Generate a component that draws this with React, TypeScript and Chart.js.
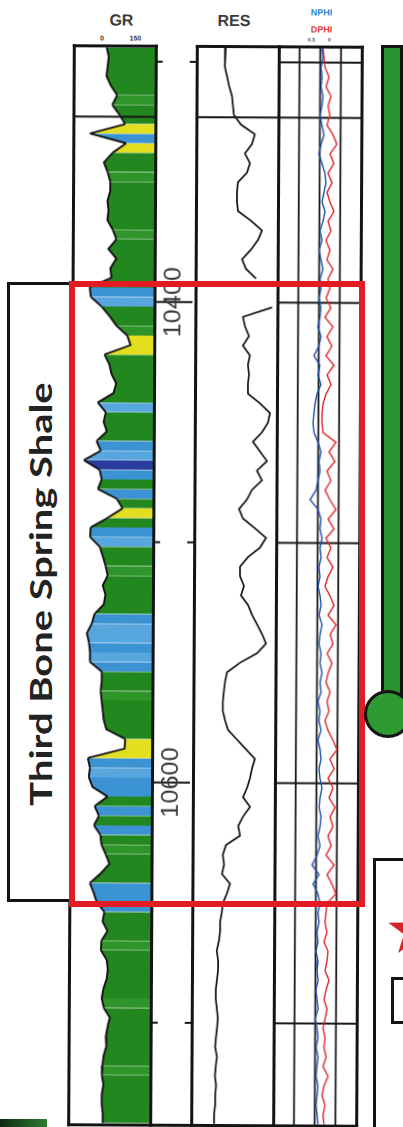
import React, { useEffect, useRef } from "react";
import { Chart, registerables } from "chart.js";

Chart.register(...registerables);

// ---------- data (depth in ft, sampled every 4 ft) ----------
const DEPTH = [
  10294, 10298, 10302, 10306, 10310, 10314, 10318, 10322, 10326, 10330,
  10334, 10338, 10342, 10346, 10350, 10354, 10358, 10362, 10366, 10370,
  10374, 10378, 10382, 10386, 10390, 10394, 10398, 10402, 10406, 10410,
  10414, 10418, 10422, 10426, 10430, 10434, 10438, 10442, 10446, 10450,
  10454, 10458, 10462, 10466, 10470, 10474, 10478, 10482, 10486, 10490,
  10494, 10498, 10502, 10506, 10510, 10514, 10518, 10522, 10526, 10530,
  10534, 10538, 10542, 10546, 10550, 10554, 10558, 10562, 10566, 10570,
  10574, 10578, 10582, 10586, 10590, 10594, 10598, 10602, 10606, 10610,
  10614, 10618, 10622, 10626, 10630, 10634, 10638, 10642, 10646, 10650,
  10654, 10658, 10662, 10666, 10670, 10674, 10678, 10682, 10686, 10690,
  10694, 10698, 10702, 10706, 10710, 10714, 10718, 10722, 10726, 10730,
  10734, 10738, 10742,
];

const GR = [
  59, 63, 61, 59, 67, 79, 70, 83, 94, 29,
  96, 71, 55, 62, 67, 67, 62, 64, 62, 72,
  79, 64, 79, 68, 70, 30, 32, 52, 67, 80,
  100, 106, 58, 67, 71, 80, 75, 46, 61, 57,
  63, 44, 52, 21, 50, 54, 47, 82, 93, 65,
  34, 33, 51, 57, 62, 66, 57, 62, 59, 42,
  37, 28, 32, 34, 34, 56, 56, 54, 56, 58,
  60, 65, 100, 99, 31, 35, 33, 40, 68, 44,
  52, 43, 55, 57, 65, 72, 56, 36, 43, 49,
  63, 60, 69, 58, 57, 68, 70, 68, 62, 59,
  63, 74, 70, 67, 68, 63, 61, 60, 63, 60,
  60, 62, 62,
];

// lithology shading of the GR track
const FACIES = [
  "G", "G", "G", "G", "G", "g", "G", "G", "Y", "B",
  "Y", "G", "G", "g", "G", "G", "G", "G", "G", "g",
  "G", "G", "G", "G", "G", "B", "L", "G", "G", "g",
  "Y", "Y", "G", "G", "G", "G", "G", "L", "G", "G",
  "G", "B", "L", "D", "B", "G", "B", "G", "Y", "G",
  "B", "L", "G", "G", "g", "G", "G", "G", "G", "B",
  "L", "L", "B", "L", "B", "G", "G", "g", "G", "G",
  "G", "G", "Y", "Y", "B", "L", "B", "B", "G", "B",
  "G", "B", "G", "g", "G", "G", "G", "B", "B", "B",
  "G", "G", "G", "g", "G", "G", "G", "G", "G", "g",
  "G", "G", "G", "G", "G", "G", "g", "G", "G", "G",
  "G", "G", "G",
];

const RES = [
  2.3, 2.15, 2.15, 2.6, 3.1, 3.95, 4.3, 4.7, 8.6, 27.7,
  21.8, 12.1, 18.6, 14.5, 6.8, 6.3, 6.3, 6.9, 20.8, 52.5,
  37.6, 21, 9.9, 13.8, 32.4, null, null, 127, 11, 13.1,
  18.5, 11.1, 20.1, 17.1, 18.8, 17.2, 17.4, 47.8, 112, 94.5,
  57.5, 26.8, 48.9, 88.4, 38.2, 58.5, 25.3, 16.7, 8.6, 12.1,
  33.3, 84.7, 51.2, 18.8, 9.6, 9.6, 13.5, 10.5, 19.2, 26.8,
  41.1, 63, 88.4, 41.8, 10, 3.35, 2.85, 2.6, 2.4, 2.4,
  2.9, 3.75, 8, 17.2, 36.6, 28.8, 24.4, 19.2, 13.6, 24.8,
  13.8, 9.2, 10.8, 3.3, 2.55, 2.85, 2.4, 4.75, 3.7, 2.65,
  2.4, 2.1, 2.1, 1.9, 1.6, 1.8, 1.8, 1.65, 1.5, 1.5,
  1.65, 1.8, 1.7, 1.55, 1.45, 1.7, 1.55, 1.45, 1.6, 1.5,
  1.5, 1.37, 1.37,
];

const NPHI = [
  0.138, 0.130, 0.144, 0.137, 0.143, 0.129, 0.136, 0.150, 0.135, 0.120,
  0.141, 0.156, 0.133, 0.112, 0.104, 0.118, 0.132, 0.110, 0.124, 0.146,
  0.130, 0.152, 0.137, 0.123, 0.143, 0.136, 0.150, 0.136, 0.142, 0.157,
  0.134, 0.149, 0.184, 0.141, 0.154, 0.133, 0.161, 0.175, 0.182, 0.189,
  0.181, 0.152, 0.130, 0.144, 0.136, 0.151, 0.164, 0.207, 0.149, 0.127,
  0.134, 0.119, 0.133, 0.125, 0.140, 0.132, 0.146, 0.131, 0.124, 0.138,
  0.116, 0.130, 0.137, 0.122, 0.129, 0.114, 0.128, 0.120, 0.142, 0.127,
  0.134, 0.119, 0.141, 0.125, 0.118, 0.132, 0.125, 0.110, 0.124, 0.130,
  0.116, 0.123, 0.137, 0.122, 0.143, 0.179, 0.128, 0.171, 0.135, 0.120,
  0.134, 0.126, 0.141, 0.133, 0.147, 0.132, 0.139, 0.131, 0.146, 0.138,
  0.130, 0.151, 0.137, 0.129, 0.143, 0.128, 0.136, 0.142, 0.128, 0.134,
  0.141, 0.133, 0.126,
];

const DPHI = [
  0.130, 0.123, 0.115, 0.086, 0.107, 0.071, 0.092, 0.078, 0.099, 0.055,
  0.026, 0.076, 0.047, 0.090, 0.060, 0.096, 0.074, 0.045, 0.088, 0.066,
  0.102, 0.073, 0.094, 0.050, 0.086, 0.071, 0.099, 0.063, 0.106, 0.048,
  0.091, 0.055, 0.097, 0.039, 0.089, 0.060, 0.096, 0.117, 0.124, 0.124,
  0.116, 0.022, 0.072, 0.029, 0.086, 0.057, 0.099, 0.063, 0.019, 0.076,
  0.033, 0.090, 0.054, 0.082, 0.039, 0.074, 0.096, 0.059, 0.030, 0.073,
  0.015, 0.057, 0.036, 0.078, 0.042, 0.070, 0.085, 0.055, 0.077, 0.062,
  0.091, 0.068, 0.032, 0.003, 0.053, 0.023, 0.067, 0.030, 0.059, 0.015,
  0.051, 0.029, 0.065, 0.042, 0.078, 0.020, 0.070, 0.034, 0.005, 0.069,
  0.076, 0.083, 0.068, 0.089, 0.060, 0.067, 0.081, 0.052, 0.073, 0.087,
  0.065, 0.079, 0.094, 0.078, 0.086, 0.070, 0.092, 0.055, 0.084, 0.098,
  0.076, 0.090, 0.083,
];

const DEPTH_MIN = 10293.3;
const DEPTH_MAX = 10742.5;
const DEPTH_GRID = [10300, 10400, 10500, 10600, 10700];
const DEPTH_LABELS = [10400, 10600];
const MARKER_DEPTHS = [10323];
const GR_MIN = 0;
const GR_MAX = 150;
const RES_MIN = 0.2;
const RES_MAX = 200;
const PHI_LEFT = 0.45;
const PHI_RIGHT = -0.15;
const PHI_GRID = [0.3, 0.15, 0];
const ZONE_NAME = "Third Bone Spring Shale";

const FACIES_COLORS: Record<string, string> = {
  G: "#22871f",
  g: "#2f9429",
  Y: "#e3df1f",
  B: "#3b93d4",
  L: "#58a6de",
  D: "#2a3d9c",
};

// ---------- layout ----------
const TOP = 46;
const PLOT_H = 1079;

function depthAxis() {
  return { type: "linear", reverse: true, min: DEPTH_MIN, max: DEPTH_MAX, display: false, offset: false };
}

function baseOptions(x: any) {
  return {
    responsive: false,
    maintainAspectRatio: false,
    animation: false,
    devicePixelRatio: 1,
    indexAxis: "y",
    events: [],
    layout: { padding: 0 },
    plugins: { legend: { display: false }, tooltip: { enabled: false } },
    scales: { x, y: depthAxis() },
  };
}

function hLines(depths: number[], width: number, after: boolean) {
  const draw = (chart: any) => {
    const { ctx, chartArea: a, scales } = chart;
    ctx.save();
    ctx.strokeStyle = "#161616";
    ctx.lineWidth = width;
    for (const d of depths) {
      const y = scales.y.getPixelForValue(d);
      ctx.beginPath();
      ctx.moveTo(a.left, y);
      ctx.lineTo(a.right, y);
      ctx.stroke();
    }
    ctx.restore();
  };
  return after ? { id: "hlinesAfter", afterDatasetsDraw: draw } : { id: "hlinesBefore", beforeDatasetsDraw: draw };
}

function grConfig(): any {
  return {
    type: "line",
    data: {
      datasets: [
        {
          data: DEPTH.map((d, i) => ({ x: GR[i], y: d })),
          indexAxis: "y",
          borderColor: "#111",
          borderWidth: 1.9,
          pointRadius: 0,
          fill: { value: GR_MAX },
          backgroundColor: FACIES_COLORS.G,
          segment: { backgroundColor: (c: any) => FACIES_COLORS[FACIES[c.p0DataIndex]] },
        },
      ],
    },
    options: baseOptions({ type: "linear", min: GR_MIN, max: GR_MAX, display: false }),
    plugins: [hLines(MARKER_DEPTHS, 2, true)],
  };
}

function depthConfig(): any {
  return {
    type: "line",
    data: { datasets: [] },
    options: baseOptions({ type: "linear", min: 0, max: 1, display: false }),
    plugins: [
      {
        id: "depthTrack",
        afterDraw(chart: any) {
          const { ctx, chartArea: a, scales } = chart;
          ctx.save();
          ctx.strokeStyle = "#161616";
          ctx.lineWidth = 2;
          for (const d of DEPTH_GRID) {
            const y = scales.y.getPixelForValue(d);
            ctx.beginPath();
            if (DEPTH_LABELS.includes(d)) {
              ctx.moveTo(a.left, y);
              ctx.lineTo(a.right - 3, y);
            } else {
              ctx.moveTo(a.left, y);
              ctx.lineTo(a.left + 6, y);
              ctx.moveTo(a.right - 7, y);
              ctx.lineTo(a.right, y);
            }
            ctx.stroke();
          }
          ctx.fillStyle = "#3a3a3a";
          ctx.font = "23px 'Liberation Sans', Arial, sans-serif";
          ctx.textAlign = "center";
          ctx.textBaseline = "middle";
          for (const d of DEPTH_LABELS) {
            const y = scales.y.getPixelForValue(d);
            ctx.save();
            ctx.translate(a.left + 18, y);
            ctx.rotate(-Math.PI / 2);
            ctx.scale(1.1, 1);
            ctx.fillText(String(d), 0, 1);
            ctx.restore();
          }
          ctx.restore();
        },
      },
    ],
  };
}

function resConfig(): any {
  return {
    type: "line",
    data: {
      datasets: [
        {
          data: DEPTH.map((d, i) => ({ x: RES[i], y: d })),
          indexAxis: "y",
          borderColor: "#111",
          borderWidth: 1.7,
          pointRadius: 0,
          spanGaps: false,
          fill: false,
        },
      ],
    },
    options: baseOptions({ type: "logarithmic", min: RES_MIN, max: RES_MAX, display: false }),
    plugins: [hLines(MARKER_DEPTHS, 2, true)],
  };
}

function phiConfig(): any {
  return {
    type: "line",
    data: {
      datasets: [
        {
          label: "NPHI",
          data: DEPTH.map((d, i) => ({ x: NPHI[i], y: d })),
          indexAxis: "y",
          borderColor: "#1f4fb3",
          borderWidth: 1.4,
          pointRadius: 0,
          fill: false,
          order: 0,
        },
        {
          label: "DPHI",
          data: DEPTH.map((d, i) => ({ x: DPHI[i], y: d })),
          indexAxis: "y",
          borderColor: "#e1252b",
          borderWidth: 1.4,
          pointRadius: 0,
          fill: false,
          order: 1,
        },
      ],
    },
    options: baseOptions({ type: "linear", min: PHI_RIGHT, max: PHI_LEFT, reverse: true, display: false }),
    plugins: [
      {
        id: "phiGrid",
        beforeDatasetsDraw(chart: any) {
          const { ctx, chartArea: a, scales } = chart;
          ctx.save();
          ctx.strokeStyle = "#1a1a1a";
          ctx.lineWidth = 1.8;
          for (const v of PHI_GRID) {
            const x = scales.x.getPixelForValue(v);
            ctx.beginPath();
            ctx.moveTo(x, a.top);
            ctx.lineTo(x, a.bottom);
            ctx.stroke();
          }
          ctx.lineWidth = 2;
          for (const d of [...DEPTH_GRID, ...MARKER_DEPTHS]) {
            const y = scales.y.getPixelForValue(d);
            ctx.beginPath();
            ctx.moveTo(a.left, y);
            ctx.lineTo(a.right, y);
            ctx.stroke();
          }
          ctx.restore();
        },
      },
    ],
  };
}

type TrackProps = { left: number; width: number; make: () => any };

function Track({ left, width, make }: TrackProps) {
  const ref = useRef<HTMLCanvasElement | null>(null);
  useEffect(() => {
    const chart = new Chart(ref.current as HTMLCanvasElement, make());
    return () => chart.destroy();
  }, []);
  return (
    <canvas
      ref={ref}
      width={width}
      height={PLOT_H}
      style={{ position: "absolute", left, top: TOP, width, height: PLOT_H, display: "block" }}
    />
  );
}

const abs = (s: React.CSSProperties): React.CSSProperties => ({ position: "absolute", ...s });

function Label({ x, y, size, color, text, weight = 700 }: { x: number; y: number; size: number; color: string; text: string; weight?: number }) {
  return (
    <div
      style={abs({
        left: x,
        top: y,
        transform: "translateX(-50%)",
        fontFamily: "'Liberation Sans', Arial, sans-serif",
        fontWeight: weight,
        fontSize: size,
        lineHeight: `${size}px`,
        color,
        whiteSpace: "nowrap",
      })}
    >
      {text}
    </div>
  );
}

export default function App() {
  const vBorders = [70, 152, 192.5, 274.5, 357.5];
  const black = "#141414";
  return (
    <div style={abs({ left: 0, top: 0, width: 403, height: 1127, background: "#fff", overflow: "hidden" })}>
      {/* scanned log, slightly rotated */}
      <div style={abs({ left: 0, top: 0, width: 403, height: 1127, transform: "rotate(0.3deg)", transformOrigin: "215px 585px" })}>
        <Label x={118.5} y={13} size={16} color="#3c3c3c" text="GR" />
        <Label x={99} y={35} size={7} color="#333" text="0" />
        <Label x={132.5} y={35} size={7} color="#333" text="150" />
        <Label x={231} y={13} size={16} color="#3c3c3c" text="RES" />
        <Label x={318.5} y={7.5} size={9} color="#2e86d0" text="NPHI" />
        <Label x={318.5} y={24.5} size={9} color="#e53935" text="DPHI" />
        <Label x={308.5} y={37} size={5} color="#444" text="0.3" />
        <Label x={326.5} y={37} size={5} color="#444" text="0" />

        <Track left={72} width={81} make={grConfig} />
        <Track left={154} width={40} make={depthConfig} />
        <Track left={194} width={82} make={resConfig} />
        <Track left={276} width={83} make={phiConfig} />

        {vBorders.map((x) => (
          <div key={x} style={abs({ left: x, top: 45, width: 3, height: 1082, background: black })} />
        ))}
        <div style={abs({ left: 70, top: 45, width: 85, height: 3, background: black })} />
        <div style={abs({ left: 192.5, top: 45, width: 168, height: 3, background: black })} />
        <div style={abs({ left: 70, top: 1124, width: 290.5, height: 3, background: black })} />
      </div>

      {/* formation annotation */}
      <div style={abs({ left: 7, top: 282, width: 66, height: 620, border: `3px solid ${black}`, boxSizing: "border-box", background: "#fff" })} />
      <div
        style={abs({
          left: 40,
          top: 594,
          transform: "translate(-50%, -50%) rotate(-90deg) scaleX(1.33)",
          fontFamily: "Lato, 'Open Sans', sans-serif",
          fontWeight: 700,
          fontSize: 30,
          lineHeight: "30px",
          color: "#222",
          whiteSpace: "nowrap",
        })}
      >
        {ZONE_NAME}
      </div>
      <div style={abs({ left: 69, top: 281, width: 296, height: 626, border: "6px solid #e31b23", boxSizing: "border-box" })} />

      {/* right-hand green bar */}
      <div style={abs({ left: 381, top: 45, width: 22, height: 660, background: "#2b9230", border: `3px solid ${black}`, boxSizing: "border-box" })} />
      <div style={abs({ left: 364, top: 690, width: 48, height: 48, borderRadius: "50%", background: "#2e9a31", border: `3px solid ${black}`, boxSizing: "border-box" })} />

      {/* bottom-right legend box fragment */}
      <div style={abs({ left: 373, top: 858, width: 60, height: 300, border: `3px solid ${black}`, boxSizing: "border-box", background: "#fff" })} />
      <svg style={abs({ left: 380, top: 896, width: 60, height: 64, overflow: "visible" })} width={60} height={64}>
        <polygon
          points="34,8 40.2,26.4 59.7,26.7 44.1,38.3 49.9,56.9 34,45.6 18.1,56.9 23.9,38.3 8.3,26.7 27.8,26.4"
          fill="#d8222a"
        />
      </svg>
      <div style={abs({ left: 391, top: 977, width: 40, height: 47, border: `3px solid ${black}`, boxSizing: "border-box" })} />

      {/* dark green fragment bottom-left */}
      <div style={abs({ left: 0, top: 1119, width: 47, height: 8, background: "linear-gradient(90deg,#0e2a12,#2f7d32)" })} />
    </div>
  );
}
